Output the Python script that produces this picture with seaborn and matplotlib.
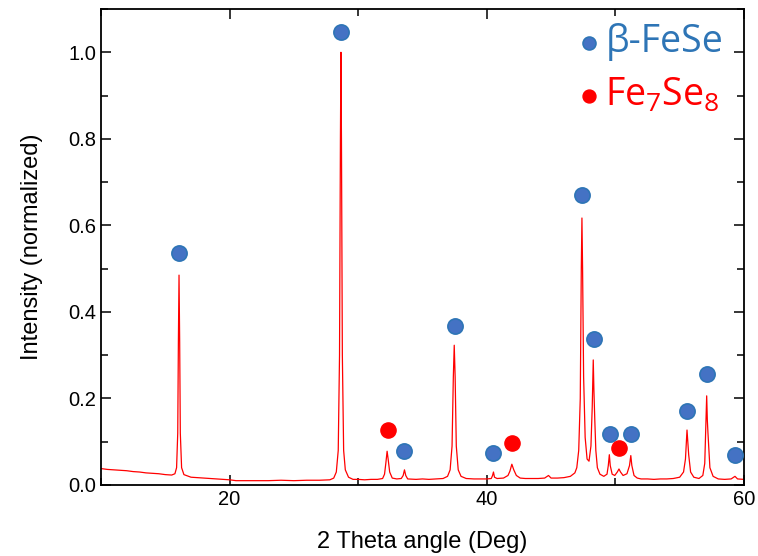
import matplotlib
matplotlib.use("Agg")
import matplotlib.pyplot as plt
import seaborn as sns
import pandas as pd
from matplotlib.ticker import MultipleLocator

# XRD trace (2 theta, normalized intensity)
two_theta = [
    10.0, 10.5, 11.0, 11.5, 12.0, 12.5, 13.0, 13.5, 14.0, 14.5, 15.0, 15.5,
    15.75, 15.88, 15.97, 16.02, 16.07, 16.12, 16.17, 16.27, 16.45,
    17.0, 17.5, 18.0, 18.5, 19.0, 19.5, 20.0, 20.5, 21.0, 22.0, 23.0, 24.0, 25.0, 26.0, 27.0, 27.8,
    28.1, 28.3, 28.45, 28.55, 28.62, 28.66, 28.70, 28.77, 28.87, 29.0, 29.25, 29.6,
    30.0, 30.5, 31.0, 31.5, 31.9,
    32.05, 32.15, 32.25, 32.33, 32.45, 32.65, 33.0, 33.35,
    33.5, 33.6, 33.7, 33.85, 34.5, 35.0, 35.5, 36.0, 36.6,
    36.95, 37.15, 37.3, 37.4, 37.47, 37.54, 37.63, 37.78, 38.0, 38.4,
    39.0, 39.5, 40.0, 40.35, 40.45, 40.52, 40.6, 40.8, 41.3, 41.65,
    41.8, 41.95, 42.1, 42.3, 42.6, 43.0, 43.5, 44.0, 44.5, 44.8, 45.0, 45.5, 46.0, 46.5,
    46.85, 47.0, 47.15, 47.27, 47.35, 47.4, 47.45, 47.53, 47.65, 47.8, 47.95, 48.1,
    48.2, 48.28, 48.33, 48.4, 48.48, 48.6, 48.8, 49.1, 49.35,
    49.45, 49.53, 49.6, 49.75, 49.95, 50.15, 50.28, 50.4, 50.6, 50.9,
    51.1, 51.2, 51.28, 51.45, 51.7, 52.0, 52.5, 53.0, 53.5, 54.0, 54.5, 55.0, 55.3,
    55.45, 55.57, 55.63, 55.7, 55.85, 56.1, 56.5, 56.8,
    56.95, 57.05, 57.1, 57.15, 57.2, 57.35, 57.6, 58.0, 58.5, 59.0, 59.3, 59.5, 60.0,
]
intensity = [
    0.038, 0.036, 0.035, 0.034, 0.033, 0.031, 0.030, 0.028, 0.027, 0.026, 0.024, 0.023,
    0.026, 0.040, 0.120, 0.330, 0.485, 0.330, 0.120, 0.040, 0.024,
    0.018, 0.017, 0.016, 0.015, 0.014, 0.013, 0.012, 0.010, 0.010, 0.010, 0.010, 0.011, 0.010, 0.011, 0.011, 0.012,
    0.016, 0.030, 0.080, 0.300, 0.800, 1.000, 0.800, 0.300, 0.080, 0.035, 0.018, 0.013,
    0.013, 0.012, 0.013, 0.013, 0.015,
    0.025, 0.050, 0.078, 0.060, 0.030, 0.016, 0.014, 0.015,
    0.022, 0.035, 0.022, 0.014, 0.013, 0.014, 0.013, 0.014, 0.015,
    0.020, 0.035, 0.090, 0.250, 0.323, 0.250, 0.090, 0.035, 0.020, 0.015,
    0.014, 0.014, 0.014, 0.015, 0.022, 0.030, 0.018, 0.015, 0.016, 0.022,
    0.032, 0.048, 0.035, 0.022, 0.016, 0.015, 0.015, 0.015, 0.016, 0.022, 0.016, 0.016, 0.017, 0.020,
    0.028, 0.040, 0.080, 0.200, 0.500, 0.617, 0.500, 0.250, 0.110, 0.060, 0.055, 0.090,
    0.180, 0.289, 0.220, 0.150, 0.080, 0.040, 0.025, 0.020, 0.025,
    0.045, 0.070, 0.045, 0.025, 0.022, 0.030, 0.037, 0.030, 0.022, 0.026,
    0.045, 0.068, 0.045, 0.022, 0.016, 0.014, 0.014, 0.013, 0.014, 0.014, 0.015, 0.018, 0.030,
    0.060, 0.127, 0.100, 0.070, 0.030, 0.018, 0.015, 0.022,
    0.050, 0.150, 0.206, 0.150, 0.120, 0.040, 0.020, 0.014, 0.013, 0.014, 0.020, 0.014, 0.013,
]

# phase markers
fese_x = [16.07, 28.66, 33.6, 37.53, 40.5, 47.4, 48.35, 49.6, 51.2, 55.6, 57.1, 59.3]
fese_y = [0.536, 1.048, 0.079, 0.367, 0.074, 0.670, 0.337, 0.118, 0.118, 0.170, 0.256, 0.070]
fe7se8_x = [32.3, 41.97, 50.28]
fe7se8_y = [0.127, 0.098, 0.085]

sns.set_style("ticks")
plt.rcParams["font.family"] = ["Liberation Sans", "DejaVu Sans"]
plt.rcParams["mathtext.fontset"] = "custom"
plt.rcParams["mathtext.rm"] = "Open Sans"
plt.rcParams["mathtext.it"] = "Open Sans"
for k in ["text.color", "axes.labelcolor", "xtick.color", "ytick.color", "axes.edgecolor"]:
    plt.rcParams[k] = "black"

df = pd.DataFrame({"2theta": two_theta, "I": intensity})

fig = plt.figure(figsize=(7.58, 5.56), dpi=100)
ax = fig.add_axes([0.1332, 0.1277, 0.8483, 0.8561])

sns.lineplot(data=df, x="2theta", y="I", color="red", lw=0.9, estimator=None, sort=False, ax=ax)
sns.scatterplot(x=fese_x, y=fese_y, s=120, color="#4472c4", edgecolor="#2e75b6", linewidth=1.2,
                label="β-FeSe", ax=ax, zorder=5)
sns.scatterplot(x=fe7se8_x, y=fe7se8_y, s=120, color="#ff0000", edgecolor="#ff0000", linewidth=1.0,
                label=r"Fe$\mathrm{_7}$Se$\mathrm{_8}$", ax=ax, zorder=5)

ax.set_xlim(10, 60)
ax.set_ylim(0, 1.1)
ax.xaxis.set_major_locator(MultipleLocator(20))
ax.xaxis.set_minor_locator(MultipleLocator(10))
ax.yaxis.set_major_locator(MultipleLocator(0.2))
ax.yaxis.set_minor_locator(MultipleLocator(0.1))
ax.tick_params(which="both", direction="in", top=True, right=True, width=1.1, labelsize=14.5)
ax.tick_params(which="major", length=7)
ax.tick_params(which="minor", length=5)
for sp in ax.spines.values():
    sp.set_linewidth(1.3)

ax.set_xlabel("2 Theta angle (Deg)", fontsize=17, labelpad=16)
ax.set_ylabel("Intensity (normalized)", fontsize=17, labelpad=18)

leg = ax.legend(loc="upper right", bbox_to_anchor=(1.0, 1.013), frameon=False, markerscale=0.85,
                handletextpad=0.0, handlelength=0.9, labelspacing=0.4, borderaxespad=0.15,
                prop={"family": ["Open Sans", "DejaVu Sans"], "size": 27})
for txt, c in zip(leg.get_texts(), ["#2e75b6", "#ff0000"]):
    txt.set_color(c)

fig.savefig("out.png", dpi=100)
